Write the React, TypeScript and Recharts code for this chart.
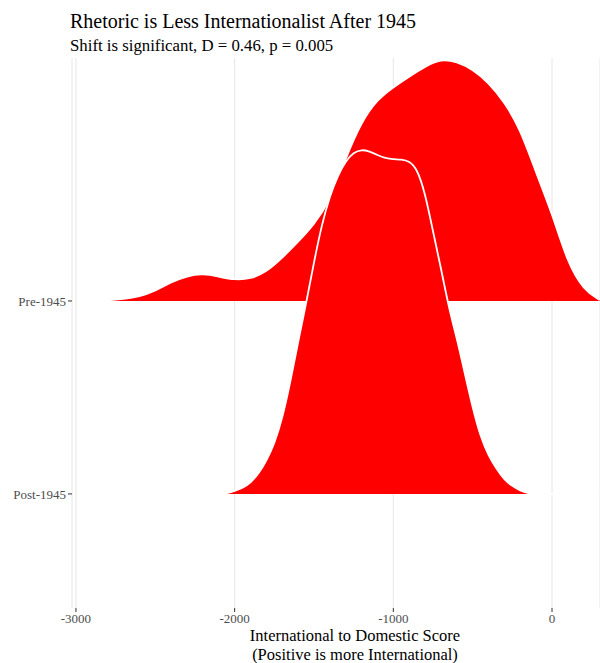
import React from "react";
import { Area, CartesianGrid, ComposedChart, XAxis, YAxis } from "recharts";

// Score grid and ridge heights (in ridge-row units) for each period
const preX = [
  -2900, -2800, -2700, -2600, -2500, -2400, -2300, -2200, -2100, -2000, -1900, -1800,
  -1700, -1600, -1500, -1400, -1300, -1200, -1100, -1000, -900, -800, -700,
  -600, -500, -400, -300, -200, -100, 0, 100, 200, 300,
];
const preHeight = [
  0, 0.003, 0.01, 0.022, 0.052, 0.098, 0.13, 0.142, 0.126, 0.109, 0.114, 0.15,
  0.223, 0.306, 0.394, 0.518, 0.741, 0.93, 1.045, 1.108, 1.163, 1.215, 1.255,
  1.24, 1.2, 1.132, 1.031, 0.891, 0.663, 0.456, 0.192, 0.057, 0.005,
];

const postX = [
  -2900, -2500, -2200, -2100, -2050, -2000, -1950, -1900, -1850, -1800, -1750,
  -1700, -1650, -1600, -1550, -1500, -1450, -1400, -1350, -1300, -1250, -1200,
  -1150, -1100, -1050, -1000, -950, -900, -850, -800, -750, -700, -650, -600,
  -550, -500, -450, -400, -350, -300, -250, -200, -150, -100, 0, 100, 200, 300,
];
const postHeight = [
  0, 0, 0, 0, 0.003, 0.016, 0.031, 0.057, 0.104, 0.171, 0.259,
  0.389, 0.575, 0.788, 0.984, 1.202, 1.399, 1.544, 1.65, 1.725, 1.77, 1.785,
  1.775, 1.756, 1.74, 1.734, 1.734, 1.725, 1.685, 1.56, 1.36, 1.171, 0.964, 0.808,
  0.627, 0.446, 0.295, 0.197, 0.13, 0.073, 0.041, 0.016, 0.003, 0, 0, 0, 0, 0,
];

const periods = ["Post-1945", "Pre-1945"];
const xTicks = [-3000, -2000, -1000, 0];

const title = "Rhetoric is Less Internationalist After 1945";
const subtitle = "Shift is significant, D = 0.46, p = 0.005";
const xTitle = ["International to Domestic Score", "(Positive is more International)"];

const FONT = "'Liberation Serif', serif";

const ridge = (xs: number[], hs: number[], row: number) =>
  xs.map((x, i) => ({ x, top: row + hs[i] }));

const preData = ridge(preX, preHeight, 2);
const postData = ridge(postX, postHeight, 1);

export default function App() {
  return (
    <div style={{ position: "absolute", left: 0, top: 0, width: 600, height: 663, background: "#fff" }}>
      <ComposedChart width={600} height={663} margin={{ top: 58, right: 0, bottom: 0, left: 0 }}>
        <CartesianGrid horizontal={false} stroke="#E6E6E6" strokeWidth={1} />
        <XAxis
          type="number"
          dataKey="x"
          domain={[-3025, 302.5]}
          allowDataOverflow
          ticks={xTicks}
          height={55}
          axisLine={false}
          tickSize={4}
          tickMargin={2}
          tickLine={{ stroke: "#333333" }}
          tick={{ fill: "#4D4D4D", fontSize: 13, fontFamily: FONT }}
        />
        <YAxis
          type="number"
          domain={[0.409, 3.259]}
          allowDataOverflow
          ticks={[1, 2]}
          tickFormatter={(v: number) => periods[v - 1]}
          width={72}
          axisLine={false}
          tickSize={4}
          tickMargin={2}
          tickLine={{ stroke: "#333333" }}
          tick={{ fill: "#4D4D4D", fontSize: 13, fontFamily: FONT }}
        />
        <Area
          data={preData}
          dataKey="top"
          baseValue={2}
          type="basis"
          fill="#FF0000"
          fillOpacity={1}
          stroke="#FFFFFF"
          strokeWidth={1.8}
          isAnimationActive={false}
        />
        <Area
          data={postData}
          dataKey="top"
          baseValue={1}
          type="basis"
          fill="#FF0000"
          fillOpacity={1}
          stroke="#FFFFFF"
          strokeWidth={1.8}
          isAnimationActive={false}
        />
      </ComposedChart>
      <svg
        width={600}
        height={663}
        style={{ position: "absolute", left: 0, top: 0, pointerEvents: "none" }}
        fontFamily={FONT}
      >
        <text x={70} y={28} fontSize={20} fill="#000">
          {title}
        </text>
        <text x={70} y={51} fontSize={16.8} fill="#000">
          {subtitle}
        </text>
        <text x={355} y={641} fontSize={16.5} fill="#000" textAnchor="middle">
          {xTitle[0]}
        </text>
        <text x={355} y={659.5} fontSize={16.5} fill="#000" textAnchor="middle">
          {xTitle[1]}
        </text>
      </svg>
    </div>
  );
}
